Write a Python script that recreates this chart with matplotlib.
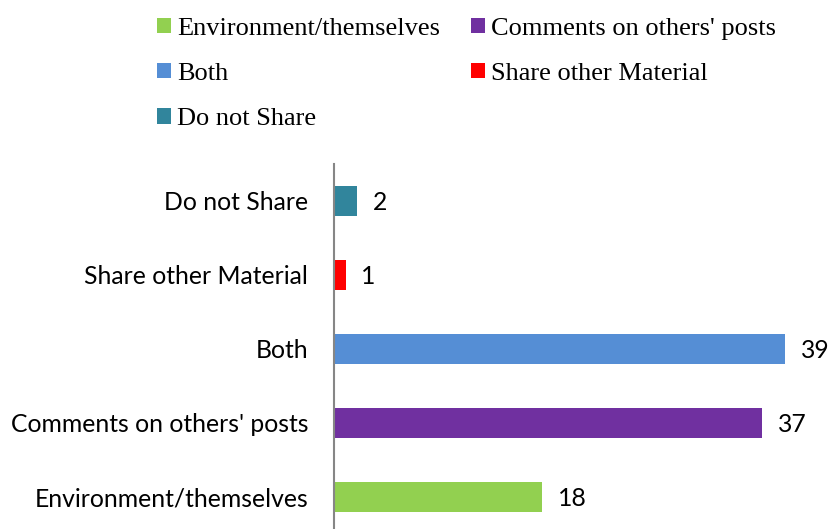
import matplotlib
matplotlib.use("Agg")
import matplotlib.pyplot as plt

# Sharing behaviour counts
categories = ["Environment/themselves", "Comments on others' posts", "Both",
              "Share other Material", "Do not Share"]
counts = [18, 37, 39, 1, 2]
colors = ["#92D050", "#7030A0", "#558ED5", "#FF0000", "#31859C"]

W, H = 830, 529
fig = plt.figure(figsize=(W / 100, H / 100), dpi=100)

# axes box in pixels: left edge at the vertical axis line
left, top, bottom, right = 334, 164, 534, 797
ax = fig.add_axes([left / W, (H - bottom) / H, (right - left) / W, (bottom - top) / H])

ypos = list(range(len(categories)))
bars = ax.barh(ypos, counts, height=0.405, color=colors)

ax.set_xlim(0, 40)
ax.set_ylim(-0.5, len(categories) - 0.5)
ax.set_yticks(ypos)
ax.set_yticklabels(categories, fontsize=17.8, family="Lato")
ax.tick_params(axis="y", length=0, pad=18.5)
ax.set_xticks([])

for s in ["top", "right", "bottom"]:
    ax.spines[s].set_visible(False)
ax.spines["left"].set_color("#868686")
ax.spines["left"].set_linewidth(1.5)

for b, v in zip(bars, counts):
    ax.text(b.get_width() + 1.35, b.get_y() + b.get_height() / 2, str(v),
            va="center_baseline", ha="left", fontsize=17.8, family="Lato")

# legend, filled row by row across two columns
order = [0, 2, 4, 1, 3]
leg = fig.legend([bars[i] for i in order], [categories[i] for i in order],
                 ncol=2, loc="upper left", bbox_to_anchor=(157 / W, 1 - 18 / H),
                 frameon=False, prop={"family": "Liberation Serif", "size": 19},
                 handlelength=0.53, handleheight=0.51, handletextpad=0.22,
                 columnspacing=1.2, labelspacing=0.88, borderpad=0, borderaxespad=0)

fig.savefig("out.png", dpi=100)
